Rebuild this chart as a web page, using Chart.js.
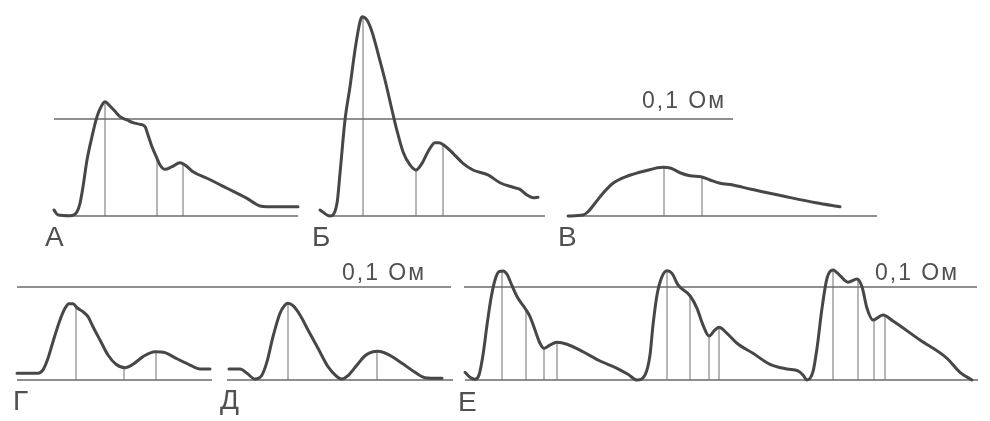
<!DOCTYPE html>
<html>
<head>
<meta charset="utf-8">
<script src="https://cdn.jsdelivr.net/npm/chart.js@4"></script>
<style>
  html, body { margin: 0; padding: 0; background: #ffffff; }
  canvas { display: block; }
</style>
</head>
<body>
<canvas id="c" width="990" height="421"></canvas>
<script>
// ---------- DATA (time units relative to each trace start, amplitude in mOhm) ----------
const tA = [0,4,16,23,26,29,33,38,43,48,51,56,61,66,73,79,86,91,94,98,103,106,111,118,126,131,139,153,173,193,206,213,244];
const vA = [6.2,1.0,0.3,4.4,13.1,30.2,57.7,81.8,102.4,114.4,117.8,113.4,107.9,102.4,99.0,96.2,94.5,92.1,83.5,71.4,59.5,52.6,48.1,50.8,54.9,52.6,45.7,38.9,28.6,18.2,10.3,9.6,9.6];
const mtA = [51, 103, 129];
const mvA = [117.8, 57.7, 54.9];

const tB = [0,10,17,20,25,30,35,40,42,47,52,58,65,72,77,83,90,96,102,108,115,119,125,133,143,153,168,180,193,200,207,213,218];
const vB = [6.2,0,13.1,44.0,99.0,133.3,171.1,200.3,205.5,202.1,190.0,167.7,140.2,109.3,87.9,66.3,52.6,47.4,54.3,66.3,75.6,75.6,72.2,64.6,54.3,47.4,42.3,34.3,29.6,27.5,21.6,18.9,19.3];
const mtB = [43, 96, 123];
const mvB = [205.0, 47.4, 72.2];

const tV = [0,15,20,27,35,45,58,78,95,103,112,122,133,142,152,165,182,215,248,272];
const vV = [0,1.0,4.4,13.1,23.4,33.7,40.5,46.7,50.2,49.2,44.6,41.5,40.5,37.1,33.7,32.0,27.8,20.6,13.7,9.6];
const mtV = [96, 134];
const mvV = [50.2, 41.2];

const tG = [0,21,26,31,36,43,48,52,56,60,66,71,76,83,91,99,108,116,126,138,148,159,173,183,193];
const vG = [7.2,7.2,10.8,23.3,41.2,64.5,77.1,82.0,82.0,77.7,73.4,68.1,57.3,43.0,26.9,16.9,13.2,16.9,25.1,30.4,29.4,23.3,16.1,11.8,11.8];
const mtG = [59, 107, 139];
const mvG = [79.6, 13.5, 30.4];

const tD = [0,11,18,26,33,38,44,51,56,59,64,71,79,89,99,108,113,119,128,136,144,149,159,173,186,196,213];
const vD = [11.8,11.8,7.2,1.1,5.4,19.7,46.6,71.7,80.6,82.5,79.9,69.9,53.8,34.1,14.3,3.5,1.1,4.6,16.1,26.1,30.4,30.9,27.6,18.0,8.3,2.5,1.8];
const mtD = [59, 148];
const mvD = [82.5, 30.9];

const tE = [0,5,10,14,18,22,26,30,34,38,42,47,53,60,65,70,75,79,85,92,102,118,135,152,163,172,180,185,188,192,197,202,207,213,225,232,238,244,250,254,262,272,288,305,322,333,338,342,348,352,357,362,368,375,383,392,397,402,408,418,428,455,482,495,507];
const vE = [8.3,2.9,0.8,5.4,26.9,59.1,87.8,107.5,116.5,117.2,113.7,101.4,87.8,77.1,68.1,53.8,39.5,34.1,37.6,40.5,38.4,30.4,20.4,12.6,6.1,0,5.4,26.9,59.1,91.4,111.1,117.5,114.7,102.2,90.6,77.1,59.1,47.3,53.8,56.7,50.2,39.5,28.7,16.9,11.8,9.7,5.4,0,8.9,34.1,77.1,109.4,118.3,112.2,105.1,108.6,100.3,77.1,64.5,69.9,63.4,43.0,23.3,8.3,0];
const mtE = [37, 61, 79, 92, 202, 225, 244, 254, 368, 393, 409, 420];
const mvE = [117.0, 76.3, 34.1, 40.5, 117.5, 90.6, 47.3, 56.7, 118.3, 108.0, 64.5, 69.5];

const panelLabels = ['А', 'Б', 'В', 'Г', 'Д', 'Е'];
const scaleText = '0,1 Ом';
const refLevel = 100; // mOhm = 0.1 Ohm

// ---------- LAYOUT (positions / styles) ----------
const layout = {
  A: { x0: 54,  row: 'yTop', base: [62, 298] },
  B: { x0: 320, row: 'yTop', base: [330, 545] },
  V: { x0: 568, row: 'yTop', base: [568, 877] },
  G: { x0: 17,  row: 'yBot', base: [17, 212] },
  D: { x0: 229, row: 'yBot', base: [227, 453] },
  E: { x0: 465, row: 'yBot', base: [465, 978] }
};
const refLines = [
  { row: 'yTop', x: [54, 733] },
  { row: 'yBot', x: [17, 451] },
  { row: 'yBot', x: [464, 977] }
];
const labelPos = [
  { x: 45, y: 246 }, { x: 312, y: 246 }, { x: 558, y: 246 },
  { x: 13, y: 410 }, { x: 220, y: 409 }, { x: 458, y: 411 }
];
const scaleTextPos = [ { x: 642, y: 108 }, { x: 342, y: 280 }, { x: 875, y: 280 } ];

const curveColor = '#474747';
const thinColor = '#6f6f6f';
const lineColor = '#6a6a6a';

const traces = [
  ['A', tA, vA, mtA, mvA], ['B', tB, vB, mtB, mvB], ['V', tV, vV, mtV, mvV],
  ['G', tG, vG, mtG, mvG], ['D', tD, vD, mtD, mvD], ['E', tE, vE, mtE, mvE]
];

const datasets = [];
// curves (first = drawn on top)
traces.forEach(([k, t, v]) => {
  const L = layout[k];
  datasets.push({
    data: t.map((tt, i) => ({ x: L.x0 + tt, y: v[i] })),
    yAxisID: L.row, showLine: true, borderColor: curveColor, borderWidth: 3,
    pointRadius: 0, cubicInterpolationMode: 'monotone', fill: false,
    borderCapStyle: 'round', borderJoinStyle: 'round'
  });
});
// markers
traces.forEach(([k, t, v, mt, mv]) => {
  const L = layout[k];
  mt.forEach((m, i) => {
    datasets.push({
      data: [{ x: L.x0 + m, y: 0 }, { x: L.x0 + m, y: mv[i] }],
      yAxisID: L.row, showLine: true, borderColor: thinColor, borderWidth: 1,
      pointRadius: 0, tension: 0
    });
  });
});
// baselines
traces.forEach(([k]) => {
  const L = layout[k];
  datasets.push({
    data: [{ x: L.base[0], y: 0 }, { x: L.base[1], y: 0 }],
    yAxisID: L.row, showLine: true, borderColor: lineColor, borderWidth: 1.5,
    pointRadius: 0, tension: 0
  });
});
// reference lines 0.1 Ohm
refLines.forEach(r => {
  datasets.push({
    data: [{ x: r.x[0], y: refLevel }, { x: r.x[1], y: refLevel }],
    yAxisID: r.row, showLine: true, borderColor: lineColor, borderWidth: 1.5,
    pointRadius: 0, tension: 0
  });
});

const textPlugin = {
  id: 'texts',
  afterDraw(chart) {
    const ctx = chart.ctx;
    ctx.save();
    ctx.fillStyle = '#505050';
    ctx.textBaseline = 'alphabetic';
    ctx.textAlign = 'left';
    ctx.font = '28px "Liberation Sans", Arial, sans-serif';
    panelLabels.forEach((s, i) => ctx.fillText(s, labelPos[i].x, labelPos[i].y));
    ctx.font = '23px "Liberation Sans", Arial, sans-serif';
    ctx.letterSpacing = '2px';
    scaleTextPos.forEach(p => ctx.fillText(scaleText, p.x, p.y));
    ctx.restore();
  }
};

new Chart(document.getElementById('c'), {
  type: 'scatter',
  data: { datasets },
  options: {
    responsive: false,
    animation: false,
    devicePixelRatio: 1,
    layout: { padding: 0 },
    plugins: { legend: { display: false }, tooltip: { enabled: false } },
    scales: {
      x: { type: 'linear', min: 0, max: 990, display: false },
      yTop: { type: 'linear', position: 'left', min: -211.34, max: 222.68, display: false },
      yBot: { type: 'linear', position: 'left', min: -44.09, max: 408.60, display: false }
    }
  },
  plugins: [textPlugin]
});
</script>
</body>
</html>
